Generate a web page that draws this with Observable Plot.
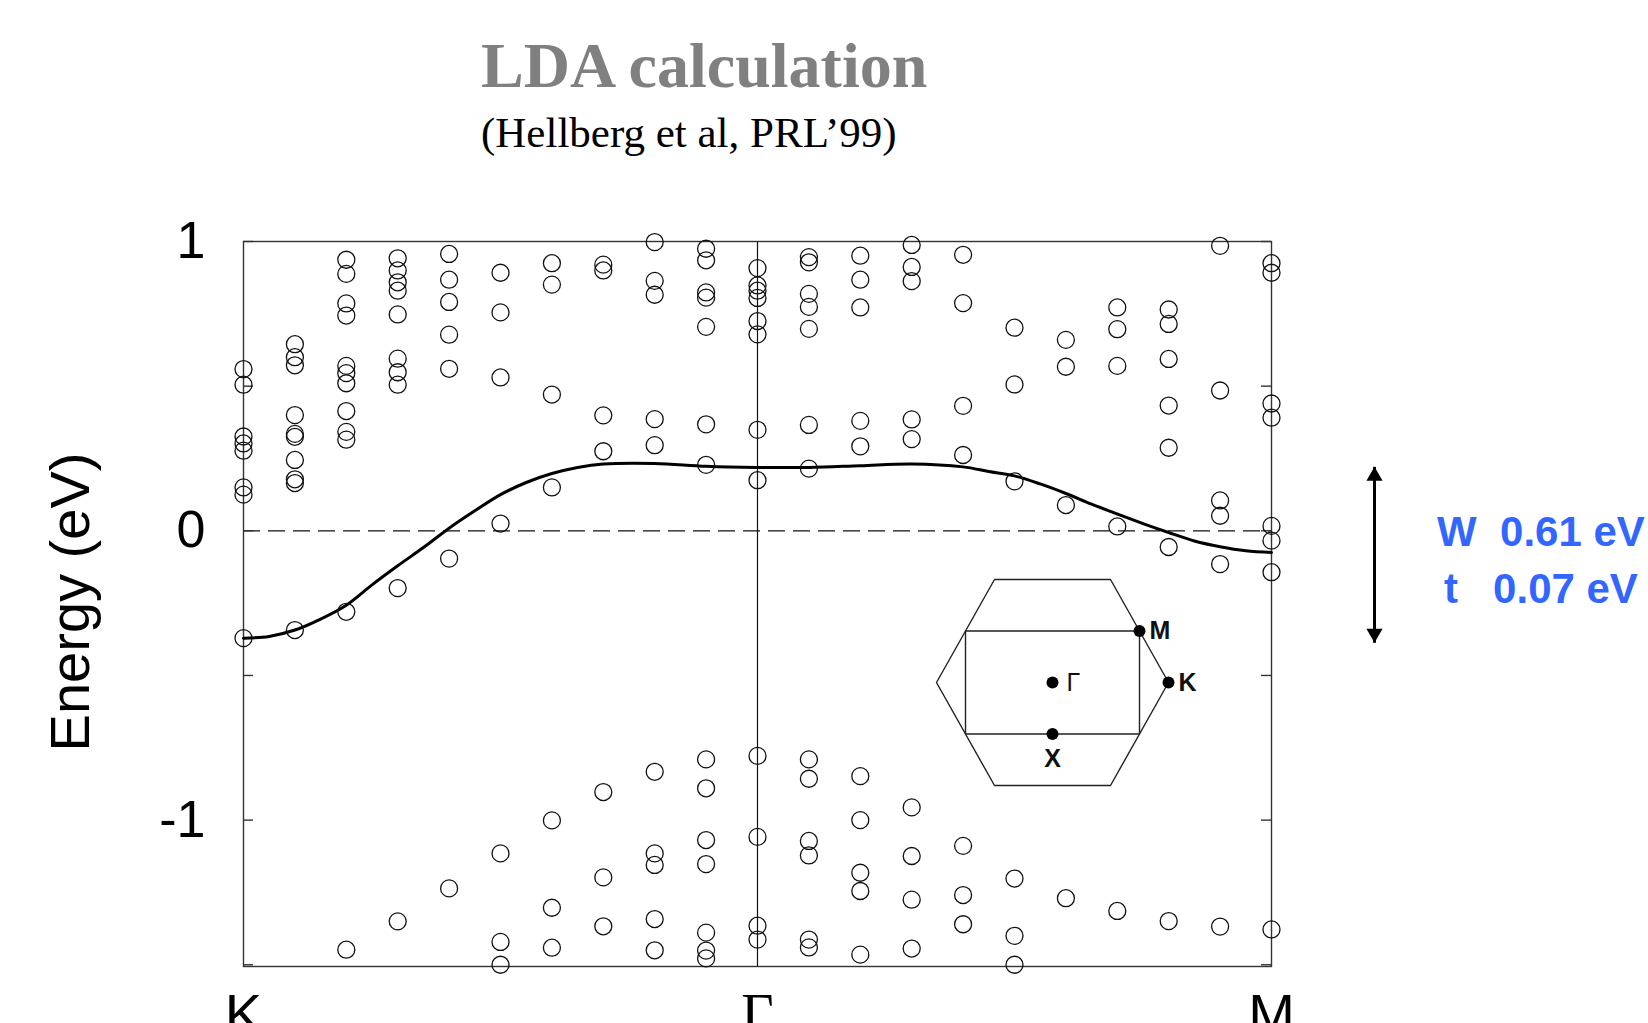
<!DOCTYPE html>
<html>
<head>
<meta charset="utf-8">
<script src="https://cdn.jsdelivr.net/npm/d3@7"></script>
<script src="https://cdn.jsdelivr.net/npm/@observablehq/plot@0.6"></script>
<style>
  html, body { margin: 0; padding: 0; background: #fff; width: 1648px; height: 1023px; overflow: hidden; position: relative; }
  .abs { position: absolute; white-space: pre; }
  #title { left: 481px; top: 34px; font: bold 64px "Liberation Serif", "Times New Roman", serif; color: #808080; line-height: 64px; }
  #subtitle { left: 481px; top: 111px; font: 43px "Liberation Serif", "Times New Roman", serif; color: #000; line-height: 43px; }
  .param { width: 240px; left: 1421px; text-align: center; font: bold 42px "Liberation Sans", Arial, sans-serif; color: rgb(51,102,255); line-height: 42px; }
</style>
</head>
<body>
<div id="title" class="abs">LDA calculation</div>
<div id="subtitle" class="abs">(Hellberg et al, PRL’99)</div>
<div id="chart" class="abs" style="left:0;top:200px"></div>
<div id="inset" class="abs" style="left:931px;top:574px"></div>
<div id="params"></div>
<script>
// ---------- data ----------
const kLabels = ["K", "Γ", "M"];
const kLabelPos = [0, 10, 20];
const kIndex = [0, 1, 2, 3, 4, 5, 6, 7, 8, 9, 10, 11, 12, 13, 14, 15, 16, 17, 18, 19, 20];

// LDA band energies (eV) at each k-point along K–Γ–M
const ldaLevels = [
  [0.559, 0.505, 0.326, 0.302, 0.277, 0.150, 0.125, -0.371],
  [0.645, 0.600, 0.572, 0.400, 0.335, 0.325, 0.245, 0.178, 0.165, -0.343],
  [0.937, 0.888, 0.786, 0.744, 0.570, 0.545, 0.510, 0.414, 0.342, 0.315, -0.280, -1.448],
  [0.942, 0.900, 0.859, 0.830, 0.748, 0.595, 0.548, 0.505, -0.198, -1.350],
  [0.957, 0.868, 0.791, 0.678, 0.560, -0.096, -1.236],
  [0.892, 0.755, 0.530, 0.025, -1.115, -1.421, -1.500],
  [0.925, 0.851, 0.471, 0.150, -1.001, -1.303, -1.441],
  [0.920, 0.900, 0.399, 0.275, -0.903, -1.198, -1.367],
  [0.998, 0.864, 0.816, 0.386, 0.296, -0.833, -1.115, -1.155, -1.342, -1.450],
  [0.975, 0.935, 0.824, 0.806, 0.705, 0.368, 0.228, -0.790, -0.890, -1.069, -1.152, -1.389, -1.451, -1.478],
  [0.908, 0.848, 0.830, 0.805, 0.725, 0.679, 0.349, 0.175, -0.778, -1.058, -1.365, -1.413],
  [0.946, 0.928, 0.819, 0.774, 0.698, 0.366, 0.215, -0.790, -0.857, -1.072, -1.122, -1.413, -1.440],
  [0.951, 0.868, 0.772, 0.380, 0.292, -0.848, -1.000, -1.182, -1.245, -1.465],
  [0.988, 0.912, 0.863, 0.385, 0.317, -0.956, -1.124, -1.275, -1.444],
  [0.954, 0.787, 0.432, 0.262, -1.089, -1.259, -1.360],
  [0.702, 0.506, 0.171, -1.202, -1.400, -1.500],
  [0.660, 0.567, 0.089, -1.270],
  [0.772, 0.697, 0.570, 0.015, -1.314],
  [0.765, 0.715, 0.594, 0.433, 0.287, -0.056, -1.349],
  [0.985, 0.485, 0.105, 0.052, -0.115, -1.368],
  [0.925, 0.892, 0.440, 0.391, 0.017, -0.034, -0.143, -1.378]
];

// tight-binding fit (solid curve)
const fitK = [0, 0.5, 1, 1.5, 2, 2.5, 3, 3.5, 4, 4.5, 5, 5.5, 6, 6.5, 7, 8, 9, 10, 11, 12, 13, 14, 14.5, 15, 15.5, 16, 16.5, 17, 17.5, 18, 18.5, 19, 19.5, 20];
const fitE = [-0.371, -0.365, -0.343, -0.305, -0.257, -0.187, -0.121, -0.058, 0.009, 0.069, 0.125, 0.167, 0.198, 0.219, 0.231, 0.233, 0.223, 0.219, 0.219, 0.225, 0.231, 0.221, 0.205, 0.190, 0.162, 0.129, 0.092, 0.058, 0.025, -0.006, -0.035, -0.055, -0.069, -0.075];

const yTickValues = [1, 0.5, 0, -0.5, -1, -1.5];
const yLabelValues = [1, 0, -1];
const yLabel = "Energy (eV)";
const fermiLevel = [0];
const bandTop = 0.221, bandBottom = -0.387;
const paramLines = ["W  0.61 eV", "t   0.07 eV"];

// Brillouin-zone inset
const bzHexX = [-1, -0.5, 0.5, 1, 0.5, -0.5, -1];
const bzHexY = [0, 0.866, 0.866, 0, -0.866, -0.866, 0];
const bzRectX = [-0.75, 0.75, 0.75, -0.75, -0.75];
const bzRectY = [0.433, 0.433, -0.433, -0.433, 0.433];
const bzNames = ["Γ", "M", "K", "X"];
const bzX = [0, 0.75, 1, 0];
const bzY = [0, 0.433, 0, -0.433];

// ---------- build ----------
const points = ldaLevels.flatMap((levels, i) => levels.map(e => ({k: kIndex[i], e})));
const fit = fitK.map((k, i) => ({k, e: fitE[i]}));
const bw = [{k: kLabelPos[2], top: bandTop, bottom: bandBottom}];
const xLab = kLabels.map((t, i) => ({t, x: kLabelPos[i]}));

const W = 1648, H = 823, mL = 243, mR = 377, mT = 41, mB = 57;
const innerW = W - mL - mR;
const sans = '"Liberation Sans", Arial, sans-serif';
const serif = '"Liberation Serif", "Times New Roman", serif';

const chart = Plot.plot({
  width: W, height: H,
  marginLeft: mL, marginRight: mR, marginTop: mT, marginBottom: mB,
  x: {domain: [0, 20], axis: null},
  y: {domain: [-1.506, 1], axis: null},
  style: {fontFamily: sans, color: "#000", background: "transparent", overflow: "visible"},
  marks: [
    Plot.ruleX([kLabelPos[1]], {stroke: "#111", strokeWidth: 1.2}),
    Plot.ruleY(fermiLevel, {stroke: "#111", strokeWidth: 1.3, strokeDasharray: "17,8"}),
    Plot.frame({stroke: "#333", strokeWidth: 1.4}),
    Plot.tickY(yTickValues, {y: d => d, insetRight: innerW - 10, stroke: "#333", strokeWidth: 1.4}),
    Plot.tickY(yTickValues, {y: d => d, insetLeft: innerW - 10, stroke: "#333", strokeWidth: 1.4}),
    Plot.line(fit, {x: "k", y: "e", curve: "catmull-rom", stroke: "#000", strokeWidth: 3}),
    Plot.dot(points, {x: "k", y: "e", r: 8.5, stroke: "#111", strokeWidth: 1.3, fill: "none"}),
    Plot.text(yLabelValues, {y: d => d, text: d => String(d), frameAnchor: "left", textAnchor: "end", dx: -38, fontSize: 52, fill: "#000"}),
    Plot.text([yLabel], {frameAnchor: "left", textAnchor: "middle", lineAnchor: "middle", rotate: -90, dx: -172, dy: -2, fontSize: 56, fill: "#000"}),
    Plot.text(xLab.filter(d => d.t !== "Γ"), {x: "x", text: "t", frameAnchor: "bottom", lineAnchor: "top", dy: 27, fontSize: 56, fill: "#000"}),
    Plot.text(xLab.filter(d => d.t === "Γ"), {x: "x", text: "t", frameAnchor: "bottom", lineAnchor: "top", dy: 27, fontSize: 56, fontFamily: serif, fill: "#000"}),
    Plot.link(bw, {x1: "k", x2: "k", y1: "bottom", y2: "top", dx: 103, stroke: "#000", strokeWidth: 3}),
    Plot.dot(bw, {x: "k", y: "top", symbol: "triangle", r: 6, fill: "#000", stroke: "none", dx: 103, dy: 9.3}),
    Plot.dot(bw, {x: "k", y: "bottom", symbol: "triangle", r: 6, rotate: 180, fill: "#000", stroke: "none", dx: 103, dy: -9.3})
  ]
});
document.getElementById("chart").append(chart);

const hex = bzHexX.map((x, i) => ({x, y: bzHexY[i]}));
const rect = bzRectX.map((x, i) => ({x, y: bzRectY[i]}));
const pts = bzNames.map((n, i) => ({n, x: bzX[i], y: bzY[i]}));

const inset = Plot.plot({
  width: 277, height: 216, marginLeft: 5, marginRight: 40, marginTop: 5, marginBottom: 5,
  x: {domain: [-1, 1], axis: null},
  y: {domain: [-0.866, 0.866], axis: null},
  style: {background: "transparent", overflow: "visible", fontFamily: sans},
  marks: [
    Plot.line(hex, {x: "x", y: "y", stroke: "#222", strokeWidth: 1.4}),
    Plot.line(rect, {x: "x", y: "y", stroke: "#222", strokeWidth: 1.4}),
    Plot.dot(pts, {x: "x", y: "y", r: 6, fill: "#000"}),
    Plot.text(pts.filter(d => d.n === "M" || d.n === "K"), {x: "x", y: "y", text: "n", textAnchor: "start", dx: 10, fontSize: 25, fontWeight: "bold", fill: "#111"}),
    Plot.text(pts.filter(d => d.n === "X"), {x: "x", y: "y", text: "n", dy: 25, fontSize: 25, fontWeight: "bold", fill: "#111"}),
    Plot.text(pts.filter(d => d.n === "Γ"), {x: "x", y: "y", text: "n", textAnchor: "start", dx: 14, fontSize: 25, fill: "#111"})
  ]
});
document.getElementById("inset").append(inset);

const params = document.getElementById("params");
paramLines.forEach((t, i) => {
  const d = document.createElement("div");
  d.className = "abs param";
  d.style.top = (511 + i * 57) + "px";
  d.textContent = t;
  params.append(d);
});
</script>
</body>
</html>
